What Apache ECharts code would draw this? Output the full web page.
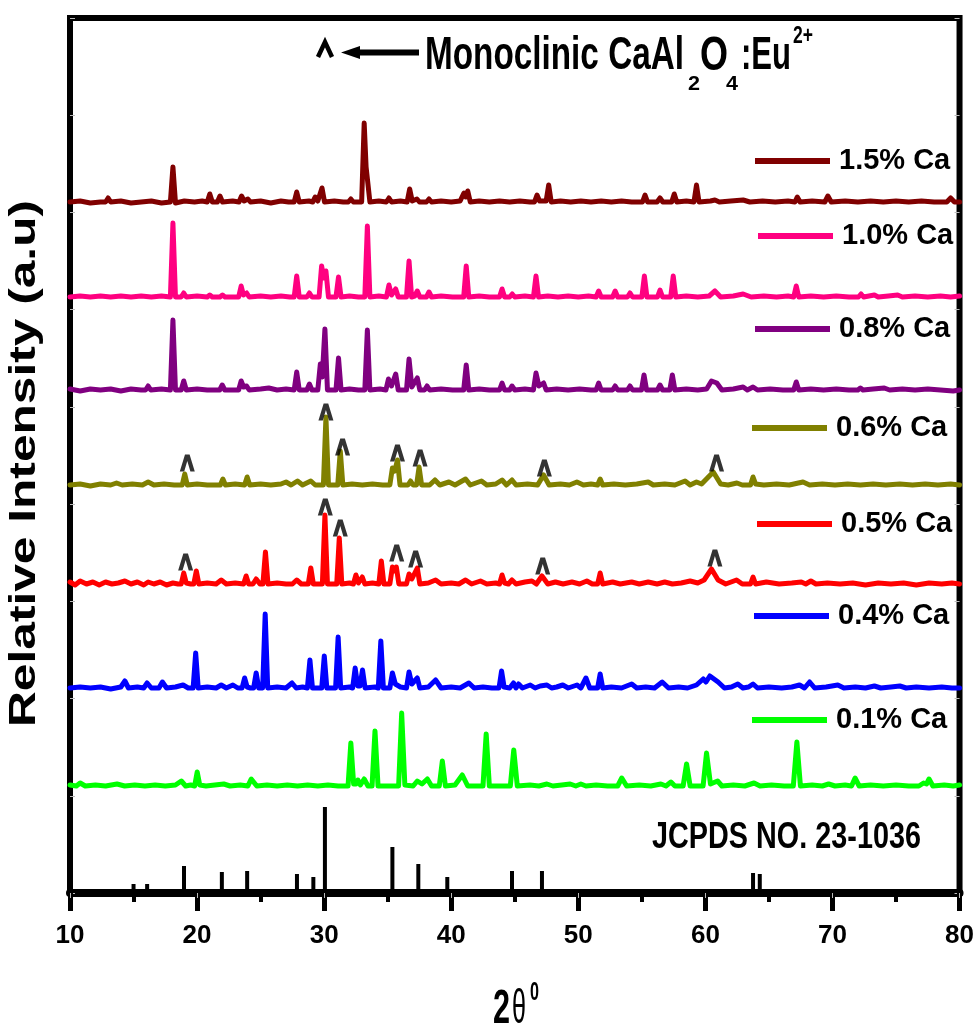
<!DOCTYPE html>
<html>
<head>
<meta charset="utf-8">
<script src="https://cdn.jsdelivr.net/npm/echarts@6/dist/echarts.min.js"></script>
<style>
  html, body { margin: 0; padding: 0; background: #fff; }
  #chart { width: 977px; height: 1030px; }
</style>
</head>
<body>
<div id="chart"></div>
<script>
// sample names, top to bottom
const sampleNames = ['1.5% Ca', '1.0% Ca', '0.8% Ca', '0.6% Ca', '0.5% Ca', '0.4% Ca', '0.1% Ca']
const sampleColors = ['#800000', '#ff0080', '#800080', '#808000', '#ff0000', '#0000ff', '#00ff00']
// vertical offset of each pattern (a.u)
const offsets = [690, 595, 502, 407, 308, 204, 106]

// patterns: [2theta, intensity above own baseline]
const ca15 = [[10,1],[10.8,2],[11.6,0],[12.4,1],[12.8,1],[13.0,5],[13.2,1],[14.0,2],[14.8,0],[15.6,1],[16.4,2],[17.2,0],[17.9,1],
  [18.1,36],[18.3,0],[19.0,2],[19.8,1],[20.4,2],[20.8,1],[21.0,9],[21.2,1],[21.6,1],[21.8,7],[22.0,1],[22.8,2],[23.3,1],[23.5,7],[23.7,2],[24.0,4],[24.2,1],
  [25.0,2],[25.8,0],[26.6,2],[27.2,1],[27.64,1],[27.84,11],[28.04,1],[28.8,2],[29.1,1],[29.3,6],[29.5,2],[29.63,2],[29.83,15],[30.03,1],[30.8,2],[31.5,1],
  [31.9,1],[32.1,4],[32.3,1],[32.95,1],[33.15,80],[33.3,36],[33.42,34],[33.6,1],[34.3,2],[34.9,1],[35.1,5],[35.3,1],[36.0,2],[36.53,1],[36.73,14],[36.93,2],
  [37.3,4],[37.5,1],[38.05,1],[38.25,4],[38.45,1],[39.2,2],[40.0,1],[40.7,2],[41.0,10],[41.15,6],[41.3,12],[41.5,1],[42.2,2],[43.0,1],[43.8,2],[44.6,1],
  [45.4,2],[46.2,1],[46.55,1],[46.75,8],[46.95,2],[47.47,2],[47.67,18],[47.87,1],[48.6,2],[49.4,1],[50.2,2],[51.0,1],[51.8,2],[52.6,1],[53.4,2],[54.2,1],
  [55.05,1],[55.25,8],[55.45,1],[56.2,1],[56.43,5],[56.65,1],[57.35,1],[57.55,9],[57.75,1],[58.5,2],[59.1,1],[59.3,18],[59.5,1],[60.4,2],[60.75,3],[61.1,1],
  [62.0,2],[62.97,3],[63.5,1],[64.5,2],[65.5,1],[66.5,2],[67.05,1],[67.23,6],[67.45,1],[68.4,2],[69.4,1],[69.64,7],[69.9,1],[71,2],[72,1],[73,2],[74,1],
  [75,2],[76,1],[77,2],[78,1],[79.0,1],[79.3,5],[79.6,1],[80,1]]

const ca10 = [[10,1],[10.8,2],[11.6,1],[12.4,2],[13.2,1],[14.0,2],[14.8,1],[15.6,2],[16.4,1],[17.2,2],[17.9,1],[18.1,75],[18.3,1],[18.75,1],[18.95,5],[19.15,1],
  [20.0,2],[20.8,1],[21.0,3],[21.2,1],[21.8,1],[22.0,3],[22.2,1],[23.27,1],[23.47,12],[23.65,3],[23.9,5],[24.1,1],[25.0,2],[25.8,1],[26.6,2],[27.3,1],
  [27.64,1],[27.84,22],[28.04,1],[28.64,1],[28.84,5],[29.04,1],[29.6,1],[29.8,32],[29.97,20],[30.14,27],[30.34,1],[30.93,1],[31.13,21],[31.33,1],[32.0,2],
  [32.7,1],[33.2,1],[33.4,72],[33.6,1],[34.3,2],[34.9,1],[35.1,13],[35.3,3],[35.63,9],[35.83,1],[36.48,1],[36.68,37],[36.88,1],[37.13,2],[37.33,7],[37.53,1],
  [38.05,1],[38.25,6],[38.45,1],[39.2,2],[40.1,1],[40.98,1],[41.18,32],[41.38,1],[42.2,2],[43.0,1],[43.8,1],[44.0,9],[44.2,1],[44.6,1],[44.8,4],[45.0,1],
  [45.8,2],[46.47,1],[46.67,22],[46.87,1],[47.6,2],[48.4,1],[49.2,2],[50.0,1],[50.8,2],[51.4,1],[51.6,7],[51.8,1],[52.7,1],[52.9,7],[53.1,1],[53.87,1],
  [54.07,5],[54.27,1],[55.0,1],[55.2,22],[55.4,1],[56.23,1],[56.43,8],[56.63,1],[57.27,1],[57.47,22],[57.67,1],[58.5,2],[59.4,1],[60.3,2],[60.75,7],[61.2,1],
  [62.2,2],[62.97,4],[63.6,1],[64.6,2],[65.6,1],[66.5,2],[66.95,1],[67.15,12],[67.35,1],[68.3,2],[69.3,1],[70.3,2],[71.3,1],[72.05,1],[72.25,4],[72.45,1],
  [73.3,3],[73.6,1],[74.4,2],[75.13,3],[75.5,1],[76.5,2],[77.5,1],[78.5,2],[79.3,1],[80,2]]

const ca08 = [[10,2],[10.8,0],[11.6,2],[12.4,1],[13.2,2],[14.0,0],[14.8,2],[15.6,1],[15.95,1],[16.15,5],[16.35,1],[17.2,2],[17.9,1],[18.1,71],[18.3,1],
  [18.75,1],[18.95,10],[19.15,1],[20.0,2],[20.8,1],[21.78,1],[21.98,6],[22.18,1],[23.27,1],[23.47,10],[23.65,4],[23.9,5],[24.1,1],[25.0,2],[25.64,3],
  [26.3,1],[27.0,2],[27.64,1],[27.84,19],[28.04,1],[28.64,1],[28.84,7],[29.04,1],[29.5,1],[29.7,27],[29.85,14],[30.06,62],[30.26,1],[30.93,1],[31.13,33],
  [31.33,1],[32.0,2],[32.7,1],[33.2,1],[33.4,61],[33.6,1],[34.4,2],[34.86,1],[35.06,12],[35.3,5],[35.63,17],[35.83,1],[36.48,1],[36.68,32],[36.9,4],
  [37.33,13],[37.53,1],[37.9,1],[38.1,5],[38.3,1],[39.2,2],[40.1,1],[40.98,1],[41.18,26],[41.38,1],[42.2,2],[43.0,1],[43.8,1],[44.0,8],[44.2,1],[44.6,1],
  [44.78,5],[45.0,1],[45.8,2],[46.47,1],[46.67,18],[46.9,5],[47.27,8],[47.47,1],[48.3,2],[49.2,1],[50.1,2],[51.0,1],[51.4,1],[51.6,8],[51.8,1],[52.7,1],
  [52.9,5],[53.1,1],[53.87,1],[54.07,5],[54.27,1],[54.97,1],[55.17,16],[55.37,1],[56.23,1],[56.43,6],[56.63,1],[57.2,1],[57.4,16],[57.6,1],[58.5,2],
  [59.4,1],[60.1,2],[60.48,10],[60.9,8],[61.3,1],[62.2,2],[62.97,4],[63.3,1],[63.75,4],[64.1,1],[65.1,2],[66.1,1],[66.95,1],[67.15,9],[67.35,1],[68.3,2],
  [69.3,1],[70.3,2],[71.3,1],[72.0,1],[72.2,3],[72.4,1],[73.2,2],[74.08,3],[74.5,1],[75.5,2],[76.5,1],[77.5,2],[78.5,1],[79.5,0],[80,1]]

const ca06 = [[10,1],[10.8,2],[11.6,0],[12.4,2],[13.2,1],[13.66,3],[14.1,1],[14.9,2],[15.7,1],[16.15,4],[16.6,1],[17.4,2],[18.2,1],[18.83,1],[19.03,12],
  [19.23,1],[20.0,2],[20.8,1],[21.83,1],[22.03,7],[22.23,1],[23.0,2],[23.74,1],[23.94,9],[24.14,1],[25.0,2],[25.8,1],[26.6,2],[27.0,4],[27.4,1],[27.9,5],
  [28.3,1],[28.95,5],[29.3,1],[29.94,1],[30.14,69],[30.34,1],[31.07,1],[31.27,35],[31.47,1],[32.2,2],[33.0,1],[33.8,2],[34.6,1],[35.17,1],[35.37,18],
  [35.55,15],[35.77,26],[35.97,1],[36.6,1],[36.8,5],[37.0,1],[37.27,1],[37.47,19],[37.67,1],[38.3,1],[38.72,6],[39.1,1],[39.82,4],[40.3,1],[41.13,7],
  [41.5,1],[42.38,5],[42.8,1],[43.5,2],[44.0,6],[44.35,1],[44.78,6],[45.1,1],[46.0,2],[46.8,1],[47.27,11],[47.7,1],[48.6,2],[49.3,1],[49.89,4],[50.4,1],
  [51.0,2],[51.52,1],[51.72,7],[51.92,1],[52.8,2],[53.7,1],[54.6,2],[55.5,4],[55.9,1],[56.8,2],[57.6,1],[58.4,5],[58.8,1],[59.3,4],[59.7,2],[60.62,14],
  [61.2,2],[61.8,1],[62.48,3],[62.9,1],[63.55,1],[63.75,9],[63.95,2],[64.6,1],[65.6,2],[66.6,1],[67.68,4],[68.2,1],[69.2,2],[70.2,1],[71.2,2],[72.2,1],
  [73.2,2],[74.2,1],[75.3,2],[76.3,1],[77.3,2],[78.3,1],[79.3,2],[80,1]]

const ca05 = [[10,3],[10.4,0],[10.8,4],[11.3,1],[11.8,3],[12.3,0],[12.8,3],[13.3,1],[13.8,2],[14.32,4],[14.8,1],[15.3,3],[15.8,0],[16.15,3],[16.6,1],
  [17.1,3],[17.6,0],[18.1,2],[18.5,1],[18.75,1],[18.95,12],[19.15,2],[19.5,1],[19.74,1],[19.94,14],[20.14,1],[20.8,2],[21.5,1],[21.9,5],[22.3,1],[23.0,2],
  [23.66,1],[23.86,9],[24.06,1],[24.4,1],[24.65,6],[24.95,1],[25.18,1],[25.38,33],[25.58,1],[26.3,2],[27.0,1],[27.5,1],[27.84,5],[28.2,1],[28.75,1],
  [28.95,17],[29.15,1],[29.86,1],[30.06,70],[30.26,1],[30.99,1],[31.19,47],[31.39,1],[32.0,2],[32.3,1],[32.5,10],[32.7,2],[33.0,8],[33.2,1],[33.8,2],
  [34.3,1],[34.5,24],[34.7,1],[35.17,1],[35.37,18],[35.52,14],[35.68,18],[35.88,1],[36.48,1],[36.68,11],[36.9,6],[37.33,17],[37.53,1],[38.2,2],[38.77,5],
  [39.2,1],[40.0,2],[40.6,1],[41.13,5],[41.6,1],[42.3,4],[42.8,1],[43.5,2],[43.8,1],[44.0,10],[44.2,2],[44.5,1],[44.78,5],[45.1,1],[45.8,3],[46.35,4],
  [46.7,1],[47.14,9],[47.6,1],[48.2,3],[48.8,1],[49.5,3],[50.1,1],[50.67,4],[51.1,1],[51.52,1],[51.72,12],[51.92,1],[52.7,3],[53.3,1],[54.2,3],[54.8,1],
  [55.5,3],[56.2,1],[56.8,3],[57.4,1],[58.1,2],[58.8,4],[59.4,2],[59.9,5],[60.48,16],[61.0,5],[61.6,1],[62.45,5],[62.9,1],[63.55,1],[63.75,8],[63.95,1],
  [64.8,3],[65.8,1],[66.8,2],[67.55,3],[67.9,1],[68.3,4],[68.7,1],[69.6,2],[70.6,1],[71.6,2],[72.6,0],[73.6,2],[74.6,1],[75.6,2],[76.6,0],[77.6,2],
  [78.6,1],[79.4,2],[80,1]]

const ca04 = [[10,1],[10.8,2],[11.6,1],[12.4,2],[13.2,0],[14.0,2],[14.32,8],[14.6,1],[15.3,2],[15.8,1],[16.07,6],[16.4,1],[17.0,1],[17.27,7],[17.6,1],
  [18.3,2],[18.9,4],[19.3,1],[19.69,1],[19.89,36],[20.09,1],[20.8,2],[21.5,1],[21.9,4],[22.3,1],[22.82,4],[23.2,1],[23.54,1],[23.74,11],[23.94,2],[24.2,1],
  [24.45,1],[24.65,16],[24.85,1],[25.16,1],[25.36,75],[25.56,1],[26.3,2],[27.0,1],[27.47,6],[27.8,1],[28.3,2],[28.68,1],[28.88,29],[29.08,1],[29.81,1],
  [30.01,33],[30.21,1],[30.9,1],[31.1,52],[31.3,1],[32.0,2],[32.24,1],[32.44,21],[32.64,3],[32.82,3],[33.02,19],[33.22,1],[34.0,2],[34.26,1],[34.46,48],
  [34.66,1],[35.17,1],[35.37,16],[35.6,5],[36.0,2],[36.48,1],[36.68,17],[36.9,5],[37.33,11],[37.53,1],[38.2,2],[38.77,9],[39.2,1],[40.0,2],[40.7,1],
  [41.39,6],[41.8,1],[42.5,2],[43.2,1],[43.76,1],[43.96,18],[44.16,2],[44.6,1],[44.9,6],[45.1,1],[45.3,5],[45.6,1],[46.22,4],[46.6,1],[47.0,3],[47.53,4],
  [47.9,1],[48.3,2],[48.78,4],[49.2,1],[49.9,4],[50.2,1],[50.6,11],[50.9,1],[51.52,1],[51.72,15],[51.92,1],[52.6,2],[53.4,1],[54.2,5],[54.6,1],[55.3,2],
  [56.0,1],[56.6,7],[57.1,1],[57.9,2],[58.6,1],[59.3,4],[59.83,10],[60.05,7],[60.35,13],[61.0,7],[61.5,1],[62.05,2],[62.55,5],[62.95,1],[63.4,2],[63.75,5],
  [64.1,1],[65.0,2],[66.0,1],[66.8,2],[67.41,4],[67.8,1],[68.2,7],[68.6,1],[69.5,2],[70.42,4],[70.9,1],[71.8,2],[72.6,1],[73.3,3],[73.8,1],[74.6,2],
  [75.3,3],[75.8,1],[76.6,2],[77.6,1],[78.6,2],[79.4,1],[80,1]]

const ca01 = [[10,2],[10.5,1],[10.8,4],[11.2,1],[12.0,2],[12.8,1],[13.7,3],[14.3,1],[15.1,2],[15.9,1],[16.7,2],[17.5,1],[18.3,2],[18.76,6],[19.1,1],
  [19.5,2],[19.81,1],[20.01,15],[20.21,2],[20.7,1],[21.4,2],[22.1,3],[22.6,1],[23.4,2],[24.0,1],[24.26,8],[24.7,1],[25.5,2],[26.3,1],[27.1,2],[27.9,1],
  [28.7,2],[29.5,1],[30.3,2],[31.1,1],[31.6,1],[31.88,1],[32.1,44],[32.32,3],[32.5,3],[32.66,7],[32.85,2],[33.15,8],[33.45,1],[33.77,1],[34.0,56],
  [34.24,1],[35.0,1],[35.6,1],[35.86,1],[36.1,74],[36.35,2],[37.0,1],[37.33,6],[37.7,3],[38.12,8],[38.45,1],[39.06,1],[39.3,26],[39.54,1],[40.3,2],
  [40.87,12],[41.3,1],[42.0,1],[42.5,1],[42.75,53],[43.0,1],[43.8,1],[44.65,1],[44.92,37],[45.2,1],[46.2,2],[46.9,1],[47.53,3],[48.0,1],[48.7,2],
  [49.36,3],[49.8,1],[50.2,3],[50.6,1],[51.4,2],[52.3,1],[53.1,1],[53.42,9],[53.8,1],[54.8,2],[55.7,1],[56.5,3],[56.9,1],[57.29,5],[57.6,1],[58.25,1],
  [58.52,23],[58.8,1],[59.82,1],[60.09,34],[60.4,3],[60.96,6],[61.3,1],[62.2,2],[63.1,1],[63.83,4],[64.3,1],[65.2,2],[66.2,1],[66.92,1],[67.2,45],
  [67.48,1],[68.4,2],[69.2,1],[69.7,3],[70.2,1],[71.0,2],[71.5,1],[71.78,9],[72.1,1],[73.0,2],[74.0,1],[75.0,2],[76.0,1],[76.8,1],[77.17,4],[77.4,3],
  [77.6,8],[77.9,1],[78.8,2],[79.5,1],[80,2]]

const traces = [ca15, ca10, ca08, ca06, ca05, ca04, ca01]

// JCPDS 23-1036 reference lines
const jcpdsPos = [15.0, 16.07, 18.97, 21.95, 23.94, 27.86, 29.15, 30.06, 35.37, 37.41, 39.69, 44.78, 47.14, 63.75, 64.28]
const jcpdsInt = [9, 9, 27, 21, 22, 19, 16, 86, 46, 29, 16, 22, 22, 20, 19]

// monoclinic CaAl2O4:Eu2+ markers [2theta, a.u]
const caretPoints = [
  [19.23, 430], [30.14, 481], [31.45, 446], [35.77, 440], [37.55, 435], [47.33, 425], [60.88, 430],
  [19.10, 331], [30.09, 386], [31.27, 365], [35.71, 340], [37.2, 334], [47.2, 327], [60.75, 335]
]

const xTicks = { min: 10, max: 80, step: 10 }

const FONT = "'Liberation Sans', Arial, sans-serif"

const measureCtx = document.createElement('canvas').getContext('2d')
// text stretched to a given box, like the tall condensed lettering of the figure
function boxText(str, cx, cy, len, capH, weight, rotation) {
  const fs = 40
  const font = `${weight} ${fs}px ${FONT}`
  measureCtx.font = font
  const w = measureCtx.measureText(str).width
  return {
    type: 'text', x: cx, y: cy, rotation: rotation || 0,
    scaleX: len / w, scaleY: capH / (0.716 * fs), z: 100,
    style: { text: str, font: font, fill: '#000', align: 'center', verticalAlign: 'middle' }
  }
}
function spanText(str, x0, x1, cy, capH, weight) {
  return boxText(str, (x0 + x1) / 2, cy, x1 - x0, capH, weight || 'bold')
}

const chart = echarts.init(document.getElementById('chart'))

const lineSeries = sampleNames.map((name, i) => ({
  name: name,
  type: 'line',
  data: traces[i].map(p => [p[0], p[1] + offsets[i]]),
  symbol: 'none',
  showSymbol: false,
  lineStyle: { color: sampleColors[i], width: 5, join: 'round', cap: 'round' },
  itemStyle: { color: sampleColors[i] },
  z: 3
}))

// legend layout: [left of line sample, centre y]
const legendSpots = [[755, 161], [758, 236], [755, 329], [752, 428], [757, 524], [754, 616], [752, 720]]
const legends = sampleNames.map((name, i) => ({
  data: [name],
  left: legendSpots[i][0],
  top: legendSpots[i][1] - 15,
  padding: 0,
  icon: 'rect',
  itemWidth: 75,
  itemHeight: 6,
  selectedMode: false,
  textStyle: { fontFamily: FONT, fontWeight: 'bold', fontSize: 29, lineHeight: 30, color: '#000', padding: [0, 0, 0, 4] }
}))

const option = {
  animation: false,
  backgroundColor: '#fff',
  grid: { left: 70, right: 15, top: 18, bottom: 137, show: true, borderColor: '#000', borderWidth: 6, backgroundColor: 'transparent' },
  legend: legends,
  xAxis: [
    {
      type: 'value', min: xTicks.min, max: xTicks.max, interval: xTicks.step, position: 'bottom',
      axisLine: { show: true, lineStyle: { color: '#000', width: 8 } },
      axisTick: { show: true, inside: false, length: 18, lineStyle: { color: '#000', width: 5 } },
      minorTick: { show: true, splitNumber: 2, length: 9, lineStyle: { color: '#000', width: 4 } },
      axisLabel: { fontFamily: FONT, fontWeight: 'bold', fontSize: 26, color: '#000', margin: 30 },
      splitLine: { show: false }
    },
    {
      type: 'value', min: xTicks.min, max: xTicks.max, interval: xTicks.step, position: 'top',
      axisLine: { show: false },
      axisTick: { show: true, inside: true, length: 5, lineStyle: { color: '#bbb', width: 1 } },
      axisLabel: { show: false },
      splitLine: { show: false }
    }
  ],
  yAxis: [
    {
      type: 'value', min: 0, max: 875, interval: 875 / 9, position: 'left',
      axisLine: { show: false },
      axisTick: { show: true, inside: true, length: 5, lineStyle: { color: '#bbb', width: 1 } },
      axisLabel: { show: false },
      splitLine: { show: false }
    },
    {
      type: 'value', min: 0, max: 875, interval: 875 / 9, position: 'right',
      axisLine: { show: false },
      axisTick: { show: true, inside: true, length: 5, lineStyle: { color: '#bbb', width: 1 } },
      axisLabel: { show: false },
      splitLine: { show: false }
    }
  ],
  series: [
    {
      name: 'JCPDS NO. 23-1036',
      type: 'bar',
      data: jcpdsPos.map((x, i) => [x, jcpdsInt[i]]),
      barWidth: 4,
      itemStyle: { color: '#000' },
      z: 2
    },
    ...lineSeries,
    {
      name: 'Monoclinic',
      type: 'scatter',
      data: caretPoints,
      symbol: 'path://M0,17 L5.2,0 L9.8,0 L15,17 L10.6,17 L7.5,6.5 L4.4,17 Z',
      symbolSize: [15, 17],
      itemStyle: { color: '#000' },
      z: 6
    }
  ],
  graphic: [
    // "^  <----  Monoclinic CaAl2O4:Eu2+"
    { type: 'polyline', z: 100, shape: { points: [[318, 57], [325, 42], [332, 57]] }, style: { stroke: '#000', lineWidth: 4.5, fill: null } },
    { type: 'line', z: 100, shape: { x1: 356, y1: 52.5, x2: 419, y2: 52.5 }, style: { stroke: '#000', lineWidth: 6 } },
    { type: 'polygon', z: 100, shape: { points: [[341, 52.5], [360, 46], [360, 59]] }, style: { fill: '#000' } },
    spanText('Monoclinic CaAl', 425, 684, 56.5, 33),
    spanText('2', 688, 700, 84.5, 15),
    spanText('O', 700, 728, 56.5, 34),
    spanText('4', 726, 738, 84.5, 15),
    spanText(':Eu', 741, 791, 56.5, 33),
    spanText('2+', 793, 813, 36.5, 17),
    spanText('JCPDS NO. 23-1036', 652, 921, 837.5, 27),
    // axis names
    boxText('Relative Intensity (a.u)', 25, 463.5, 527, 26, 'bold', Math.PI / 2),
    spanText('2', 493, 510, 1010, 34),
    spanText('\u03b8', 512, 526, 1010, 34, 'normal'),
    spanText('0', 530, 539, 992.5, 19)
  ]
}

chart.setOption(option)
</script>
</body>
</html>
